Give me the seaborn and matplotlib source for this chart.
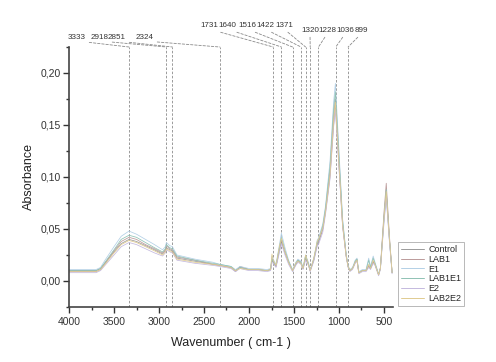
import pandas as pd
import matplotlib
matplotlib.use('Agg')
import matplotlib.pyplot as plt
from matplotlib.ticker import MultipleLocator, FuncFormatter
import seaborn as sns

# Wavenumbers (cm-1)
wavenumber = [4000, 3800, 3700, 3650, 3600, 3500, 3420, 3333, 3250, 3150, 3050, 2960,
              2930, 2918, 2880, 2851, 2800, 2600, 2400, 2324, 2200, 2150, 2100, 2000,
              1900, 1800, 1760, 1745, 1731, 1700, 1660, 1640, 1600, 1560, 1516, 1480,
              1456, 1422, 1400, 1371, 1340, 1320, 1280, 1240, 1228, 1180, 1150, 1100,
              1060, 1040, 1000, 960, 920, 899, 880, 850, 820, 800, 780, 740,
              700, 670, 650, 620, 600, 560, 540, 500, 475, 440, 410]

control = [0.010, 0.010, 0.010, 0.012, 0.017, 0.028, 0.036, 0.040, 0.038, 0.034, 0.030, 0.026,
           0.029, 0.032, 0.030, 0.029, 0.022, 0.019, 0.016, 0.015, 0.013, 0.010, 0.013, 0.011,
           0.011, 0.010, 0.011, 0.020, 0.018, 0.014, 0.030, 0.038, 0.027, 0.018, 0.010, 0.016,
           0.019, 0.017, 0.012, 0.022, 0.016, 0.010, 0.020, 0.036, 0.037, 0.050, 0.068, 0.105,
           0.158, 0.175, 0.115, 0.055, 0.024, 0.014, 0.010, 0.012, 0.018, 0.020, 0.008, 0.010,
           0.010, 0.014, 0.012, 0.018, 0.016, 0.006, 0.012, 0.060, 0.085, 0.040, 0.008]

lab1 = [0.009, 0.009, 0.009, 0.011, 0.017, 0.029, 0.038, 0.042, 0.040, 0.035, 0.031, 0.027,
        0.030, 0.034, 0.031, 0.030, 0.023, 0.020, 0.016, 0.015, 0.013, 0.009, 0.014, 0.011,
        0.011, 0.010, 0.011, 0.022, 0.019, 0.014, 0.032, 0.040, 0.028, 0.018, 0.010, 0.017,
        0.020, 0.018, 0.012, 0.023, 0.016, 0.010, 0.021, 0.037, 0.038, 0.050, 0.066, 0.100,
        0.150, 0.168, 0.110, 0.053, 0.024, 0.014, 0.010, 0.012, 0.018, 0.021, 0.008, 0.010,
        0.010, 0.015, 0.012, 0.019, 0.016, 0.006, 0.013, 0.066, 0.094, 0.044, 0.008]

e1 = [0.011, 0.011, 0.011, 0.013, 0.020, 0.033, 0.043, 0.048, 0.045, 0.040, 0.035, 0.030,
      0.033, 0.037, 0.034, 0.033, 0.025, 0.021, 0.018, 0.016, 0.014, 0.011, 0.014, 0.012,
      0.012, 0.011, 0.012, 0.024, 0.021, 0.016, 0.036, 0.046, 0.032, 0.020, 0.011, 0.018,
      0.021, 0.019, 0.013, 0.025, 0.018, 0.011, 0.022, 0.040, 0.041, 0.055, 0.072, 0.115,
      0.172, 0.190, 0.125, 0.060, 0.026, 0.015, 0.011, 0.013, 0.020, 0.022, 0.009, 0.011,
      0.011, 0.022, 0.014, 0.024, 0.018, 0.007, 0.012, 0.058, 0.082, 0.039, 0.008]

lab1e1 = [0.010, 0.010, 0.010, 0.012, 0.018, 0.030, 0.040, 0.044, 0.042, 0.037, 0.032, 0.028,
          0.031, 0.035, 0.032, 0.031, 0.024, 0.020, 0.017, 0.016, 0.014, 0.010, 0.013, 0.011,
          0.011, 0.010, 0.011, 0.021, 0.019, 0.015, 0.033, 0.042, 0.029, 0.019, 0.010, 0.017,
          0.020, 0.018, 0.012, 0.024, 0.017, 0.010, 0.021, 0.038, 0.039, 0.053, 0.070, 0.110,
          0.165, 0.182, 0.120, 0.058, 0.025, 0.014, 0.010, 0.012, 0.019, 0.021, 0.008, 0.010,
          0.010, 0.020, 0.013, 0.022, 0.017, 0.006, 0.012, 0.062, 0.088, 0.041, 0.008]

e2 = [0.008, 0.008, 0.008, 0.010, 0.015, 0.025, 0.033, 0.037, 0.035, 0.031, 0.027, 0.024,
      0.027, 0.030, 0.028, 0.027, 0.020, 0.017, 0.015, 0.014, 0.012, 0.009, 0.012, 0.010,
      0.010, 0.009, 0.010, 0.018, 0.017, 0.013, 0.028, 0.036, 0.025, 0.016, 0.009, 0.015,
      0.018, 0.016, 0.011, 0.020, 0.015, 0.009, 0.019, 0.034, 0.035, 0.047, 0.064, 0.098,
      0.148, 0.165, 0.108, 0.052, 0.023, 0.013, 0.009, 0.011, 0.017, 0.019, 0.007, 0.009,
      0.009, 0.013, 0.011, 0.017, 0.015, 0.005, 0.011, 0.056, 0.080, 0.038, 0.007]

lab2e2 = [0.009, 0.009, 0.009, 0.011, 0.016, 0.027, 0.035, 0.039, 0.037, 0.033, 0.029, 0.025,
          0.028, 0.031, 0.029, 0.028, 0.021, 0.018, 0.016, 0.015, 0.013, 0.010, 0.012, 0.011,
          0.011, 0.010, 0.011, 0.026, 0.020, 0.015, 0.034, 0.041, 0.028, 0.018, 0.010, 0.017,
          0.019, 0.017, 0.012, 0.025, 0.016, 0.010, 0.022, 0.039, 0.040, 0.051, 0.067, 0.102,
          0.155, 0.172, 0.112, 0.054, 0.024, 0.014, 0.010, 0.012, 0.018, 0.020, 0.008, 0.010,
          0.010, 0.016, 0.012, 0.020, 0.016, 0.006, 0.012, 0.061, 0.086, 0.041, 0.008]

samples = ['Control', 'LAB1', 'E1', 'LAB1E1', 'E2', 'LAB2E2']
series = [control, lab1, e1, lab1e1, e2, lab2e2]
colors = ['#9a9a9a', '#bb9a9a', '#b3d0e6', '#8fc2b4', '#c4b9de', '#e0cb90']

# Marked bands, with label spots in pixels (x, y from top)
peaks = [3333, 2918, 2851, 2324, 1731, 1640, 1516, 1422, 1371, 1320, 1228, 1036, 899]
peak_text_x = [77, 100, 117, 145, 209, 227, 247, 265, 284, 310, 327, 345, 361]
peak_text_y = [41, 41, 41, 41, 29, 29, 29, 29, 29, 34, 34, 34, 34]

rows = []
for name, vals in zip(samples, series):
    for w, a in zip(wavenumber, vals):
        rows.append({'wavenumber': w, 'absorbance': a, 'sample': name})
df = pd.DataFrame(rows)

sns.set_style('ticks')
plt.rcParams['font.family'] = ['Liberation Sans', 'DejaVu Sans']

W, H = 496, 362
fig = plt.figure(figsize=(W / 100, H / 100), dpi=100)
ax = fig.add_axes([69 / W, 1 - 307 / H, (393 - 69) / W, (307 - 47) / H])

sns.lineplot(data=df, x='wavenumber', y='absorbance', hue='sample', hue_order=samples,
             palette=colors, estimator=None, sort=True, linewidth=0.55, ax=ax, legend=True)

ax.set_xlim(4000, 400)
ax.set_ylim(-0.025, 0.225)

# dashed band markers and connectors to the labels
for wn, tx, ty in zip(peaks, peak_text_x, peak_text_y):
    ax.axvline(wn, color='#8a8a8a', lw=0.6, ls=(0, (3, 2)), zorder=0)
    ax.annotate(str(wn), xy=(wn, 1), xycoords=ax.get_xaxis_transform(),
                xytext=(tx / W, 1 - ty / H), textcoords='figure fraction',
                ha='center', va='bottom', fontsize=5.8, color='#333333',
                annotation_clip=False,
                arrowprops=dict(arrowstyle='-', color='#8a8a8a', lw=0.6,
                                ls=(0, (3, 2)), shrinkA=0, shrinkB=0,
                                relpos=(0.5, 0)))

ax.xaxis.set_major_locator(MultipleLocator(500))
ax.xaxis.set_minor_locator(MultipleLocator(250))
ax.yaxis.set_major_locator(MultipleLocator(0.05))
ax.yaxis.set_minor_locator(MultipleLocator(0.025))
ax.yaxis.set_major_formatter(FuncFormatter(lambda v, p: f'{v:.2f}'.replace('.', ',')))

ax.tick_params(which='major', direction='out', length=4, width=1, labelsize=7.5,
               colors='#333333', pad=2)
ax.tick_params(axis='x', which='major', pad=3.5)
ax.tick_params(which='minor', direction='out', length=2.5, width=1, colors='#333333')
for s in ['top', 'right']:
    ax.spines[s].set_visible(False)
for s in ['left', 'bottom']:
    ax.spines[s].set_linewidth(1.2)
    ax.spines[s].set_color('#444444')

ax.set_xlabel('Wavenumber ( cm-1 )', fontsize=9, color='#222222', labelpad=7)
ax.set_ylabel('Absorbance', fontsize=9, color='#222222', labelpad=4)

leg = ax.legend(loc='lower left', bbox_to_anchor=(398 / W, 1 - 306 / H),
                bbox_transform=fig.transFigure, fontsize=6.5, frameon=True,
                fancybox=False, handlelength=2.6, labelspacing=0.1,
                borderpad=0.3, handletextpad=0.5, borderaxespad=0)
leg.get_frame().set_edgecolor('#999999')
leg.get_frame().set_linewidth(0.6)
for line in leg.get_lines():
    line.set_linewidth(0.7)

fig.savefig('out.png', dpi=100)
